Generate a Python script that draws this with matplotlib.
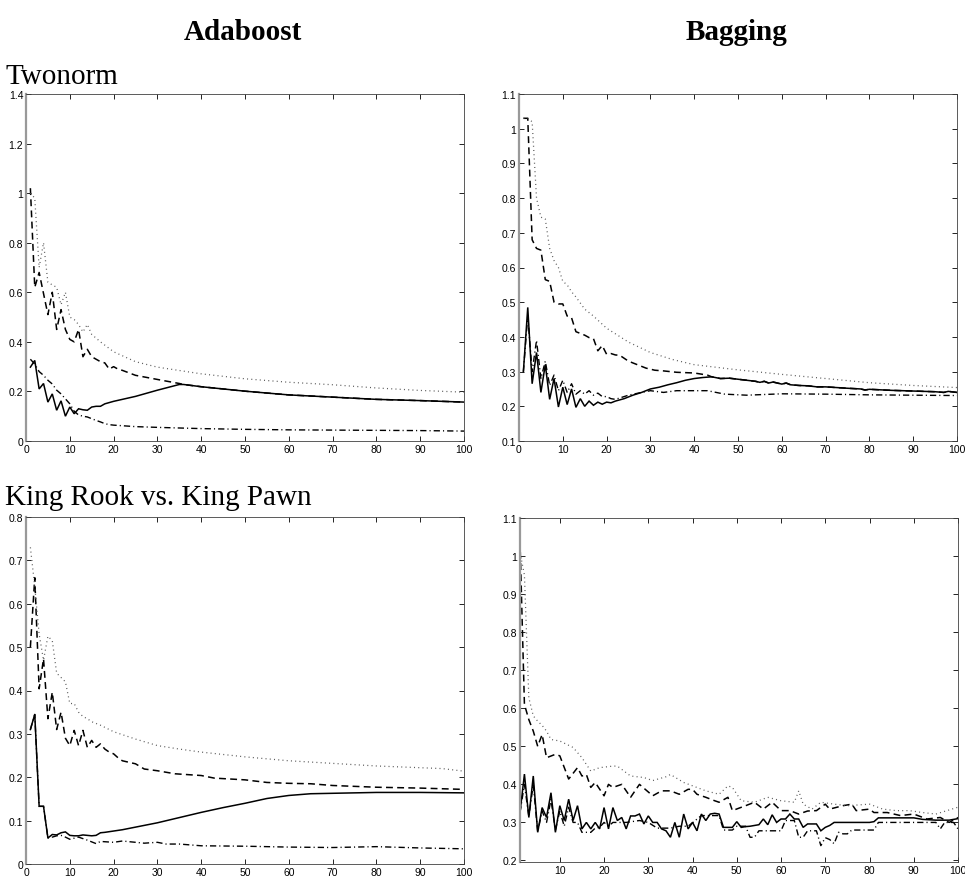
import matplotlib
matplotlib.use("Agg")
import matplotlib.pyplot as plt
from matplotlib.ticker import FuncFormatter

# ---------------- data ----------------
col_titles = ["Adaboost", "Bagging"]
row_titles = ["Twonorm", "King Rook vs. King Pawn"]

# Adaboost / Twonorm
tl_solid_x = [1, 2, 3, 4, 5, 6, 7, 8, 9, 10, 11, 12, 13, 14, 15, 16, 17, 18, 19, 20, 25, 30, 35, 36, 40, 50, 60, 70, 80, 90, 100]
tl_solid_y = [0.298, 0.325, 0.21, 0.232, 0.157, 0.19, 0.124, 0.162, 0.10, 0.137, 0.11, 0.13, 0.126, 0.124, 0.137, 0.14, 0.14, 0.15, 0.155, 0.16, 0.18, 0.205, 0.228, 0.228, 0.219, 0.201, 0.186, 0.177, 0.168, 0.163, 0.157]
tl_dash_x = [1, 2, 3, 5, 6, 7, 8, 9, 10, 11, 12, 13, 14, 15, 16, 17, 18, 19, 20, 21, 22, 25, 28, 31, 35, 36, 40, 50, 60, 70, 80, 90, 100]
tl_dash_y = [1.02, 0.62, 0.68, 0.51, 0.60, 0.45, 0.53, 0.45, 0.41, 0.40, 0.45, 0.34, 0.37, 0.34, 0.33, 0.32, 0.315, 0.29, 0.30, 0.29, 0.285, 0.265, 0.255, 0.245, 0.232, 0.228, 0.219, 0.201, 0.186, 0.177, 0.168, 0.163, 0.157]
tl_dot_x = [1, 2, 3, 4, 5, 6, 7, 8, 9, 10, 11, 12, 13, 14, 15, 17, 20, 25, 30, 40, 50, 60, 70, 80, 90, 100]
tl_dot_y = [1.0, 0.98, 0.70, 0.80, 0.64, 0.63, 0.62, 0.55, 0.60, 0.50, 0.49, 0.47, 0.44, 0.47, 0.43, 0.40, 0.36, 0.32, 0.298, 0.271, 0.251, 0.237, 0.227, 0.214, 0.204, 0.197]
tl_dashdot_x = [1, 2, 3, 4, 5, 6, 7, 8, 9, 10, 11, 12, 13, 14, 15, 16, 17, 18, 19, 20, 25, 30, 40, 50, 60, 70, 80, 90, 100]
tl_dashdot_y = [0.33, 0.31, 0.28, 0.265, 0.245, 0.23, 0.205, 0.19, 0.17, 0.15, 0.12, 0.105, 0.10, 0.097, 0.09, 0.083, 0.077, 0.07, 0.066, 0.064, 0.058, 0.055, 0.05, 0.047, 0.045, 0.044, 0.043, 0.042, 0.04]

# Bagging / Twonorm
tr_solid_x = [1, 2, 3, 4, 5, 6, 7, 8, 9, 10, 11, 12, 13, 14, 15, 16, 17, 18, 19, 20, 21, 22, 24, 26, 28, 30, 32, 34, 36, 38, 40, 42, 44, 46, 48, 50, 52, 54, 55, 56, 57, 58, 60, 61, 62, 64, 66, 68, 70, 75, 78, 79, 80, 85, 90, 95, 97, 98, 100]
tr_solid_y = [0.30, 0.485, 0.265, 0.355, 0.24, 0.32, 0.22, 0.28, 0.198, 0.255, 0.205, 0.25, 0.197, 0.222, 0.20, 0.215, 0.203, 0.212, 0.206, 0.212, 0.21, 0.215, 0.222, 0.232, 0.24, 0.25, 0.255, 0.262, 0.268, 0.275, 0.28, 0.283, 0.285, 0.28, 0.281, 0.278, 0.275, 0.272, 0.269, 0.272, 0.267, 0.27, 0.264, 0.267, 0.262, 0.26, 0.259, 0.256, 0.256, 0.252, 0.25, 0.247, 0.249, 0.246, 0.244, 0.242, 0.24, 0.243, 0.24]
tr_dash_x = [1, 2, 3, 4, 5, 6, 7, 8, 9, 10, 11, 12, 13, 14, 15, 16, 17, 18, 19, 20, 21, 22, 23, 25, 27, 29, 31, 33, 36, 40, 43, 44, 46, 48, 50, 52, 54, 55, 56, 57, 58, 60, 61, 62, 64, 66, 68, 70, 75, 78, 79, 80, 85, 90, 95, 97, 98, 100]
tr_dash_y = [1.03, 1.03, 0.68, 0.655, 0.65, 0.565, 0.56, 0.50, 0.495, 0.495, 0.46, 0.455, 0.415, 0.41, 0.405, 0.398, 0.395, 0.36, 0.375, 0.35, 0.352, 0.348, 0.347, 0.33, 0.32, 0.31, 0.304, 0.302, 0.298, 0.296, 0.29, 0.285, 0.28, 0.281, 0.278, 0.275, 0.272, 0.269, 0.272, 0.267, 0.27, 0.264, 0.267, 0.262, 0.26, 0.259, 0.256, 0.256, 0.252, 0.25, 0.247, 0.249, 0.246, 0.244, 0.242, 0.24, 0.243, 0.24]
tr_dot_x = [1, 2, 3, 4, 5, 6, 7, 8, 9, 10, 11, 12, 13, 15, 17, 20, 25, 30, 35, 40, 50, 60, 70, 80, 90, 100]
tr_dot_y = [1.03, 1.03, 1.02, 0.80, 0.745, 0.74, 0.655, 0.62, 0.60, 0.56, 0.55, 0.53, 0.515, 0.48, 0.46, 0.425, 0.385, 0.355, 0.335, 0.32, 0.305, 0.292, 0.28, 0.268, 0.26, 0.254]
tr_dashdot_x = [1, 2, 3, 4, 5, 6, 7, 8, 9, 10, 11, 12, 13, 14, 15, 16, 17, 18, 19, 20, 21, 22, 25, 28, 30, 33, 36, 40, 43, 47, 52, 60, 70, 80, 90, 100]
tr_dashdot_y = [0.30, 0.46, 0.30, 0.39, 0.28, 0.33, 0.26, 0.29, 0.245, 0.275, 0.24, 0.265, 0.235, 0.245, 0.235, 0.245, 0.232, 0.238, 0.228, 0.228, 0.222, 0.22, 0.232, 0.24, 0.245, 0.24, 0.245, 0.245, 0.245, 0.235, 0.232, 0.236, 0.235, 0.233, 0.232, 0.231]

# Adaboost / King Rook vs. King Pawn
bl_solid_x = [1, 2, 3, 4, 5, 6, 7, 8, 9, 10, 11, 12, 13, 14, 15, 16, 17, 18, 20, 22, 25, 30, 35, 40, 45, 50, 55, 60, 65, 70, 80, 90, 100]
bl_solid_y = [0.31, 0.345, 0.133, 0.133, 0.06, 0.068, 0.067, 0.072, 0.074, 0.066, 0.065, 0.065, 0.067, 0.066, 0.065, 0.066, 0.072, 0.073, 0.076, 0.079, 0.085, 0.095, 0.107, 0.119, 0.13, 0.14, 0.151, 0.158, 0.162, 0.163, 0.165, 0.165, 0.164]
bl_dash_x = [1, 2, 3, 4, 5, 6, 7, 8, 9, 10, 11, 12, 13, 14, 15, 16, 17, 18, 19, 20, 21, 22, 25, 27, 30, 34, 37, 40, 43, 50, 55, 60, 65, 70, 80, 90, 100]
bl_dash_y = [0.50, 0.66, 0.404, 0.473, 0.335, 0.396, 0.31, 0.35, 0.29, 0.273, 0.308, 0.273, 0.308, 0.269, 0.285, 0.269, 0.277, 0.265, 0.258, 0.254, 0.245, 0.238, 0.231, 0.219, 0.215, 0.208, 0.206, 0.204, 0.198, 0.194, 0.188, 0.186, 0.185, 0.181, 0.177, 0.175, 0.172]
bl_dot_x = [1, 2, 3, 4, 5, 6, 7, 8, 9, 10, 11, 12, 13, 14, 15, 17, 20, 25, 30, 35, 40, 50, 60, 70, 80, 90, 95, 100]
bl_dot_y = [0.73, 0.64, 0.53, 0.47, 0.525, 0.515, 0.44, 0.43, 0.42, 0.37, 0.37, 0.35, 0.34, 0.335, 0.328, 0.32, 0.305, 0.288, 0.273, 0.265, 0.258, 0.247, 0.238, 0.232, 0.226, 0.222, 0.22, 0.214]
bl_dashdot_x = [1, 2, 3, 4, 5, 6, 7, 8, 9, 10, 12, 14, 16, 17, 20, 22, 25, 27, 30, 32, 35, 40, 50, 60, 70, 80, 90, 100]
bl_dashdot_y = [0.31, 0.345, 0.133, 0.133, 0.06, 0.062, 0.065, 0.066, 0.062, 0.057, 0.062, 0.055, 0.047, 0.052, 0.05, 0.053, 0.05, 0.048, 0.05, 0.046, 0.046, 0.042, 0.041, 0.039, 0.038, 0.04, 0.037, 0.035]

# Bagging / King Rook vs. King Pawn
br_solid_x = [1, 2, 3, 4, 5, 6, 7, 8, 9, 10, 11, 12, 13, 14, 15, 16, 17, 18, 19, 20, 21, 22, 23, 24, 25, 26, 27, 28, 29, 30, 31, 32, 33, 34, 35, 36, 37, 38, 39, 40, 41, 42, 43, 44, 45, 46, 47, 48, 49, 50, 51, 52, 53, 54, 55, 56, 57, 58, 59, 60, 61, 62, 63, 64, 65, 66, 67, 68, 69, 70, 71, 72, 73, 75, 80, 81, 82, 90, 92, 95, 98, 100]
br_solid_y = [0.326, 0.427, 0.313, 0.422, 0.274, 0.339, 0.313, 0.378, 0.274, 0.344, 0.305, 0.361, 0.305, 0.344, 0.283, 0.30, 0.283, 0.30, 0.283, 0.339, 0.283, 0.339, 0.305, 0.313, 0.283, 0.317, 0.317, 0.322, 0.296, 0.317, 0.30, 0.30, 0.283, 0.278, 0.261, 0.30, 0.261, 0.322, 0.283, 0.30, 0.278, 0.322, 0.305, 0.322, 0.324, 0.322, 0.287, 0.287, 0.287, 0.302, 0.287, 0.289, 0.29, 0.292, 0.294, 0.309, 0.294, 0.32, 0.30, 0.309, 0.309, 0.322, 0.309, 0.309, 0.287, 0.296, 0.296, 0.296, 0.278, 0.287, 0.292, 0.30, 0.30, 0.30, 0.30, 0.302, 0.312, 0.312, 0.308, 0.306, 0.306, 0.31]
br_dash_x = [1, 2, 3, 4, 5, 6, 7, 9, 10, 12, 14, 15, 16, 17, 18, 20, 21, 22, 24, 26, 28, 31, 33, 35, 37, 39, 40, 41, 43, 45, 46, 48, 49, 52, 54, 56, 58, 60, 62, 64, 66, 68, 70, 71, 74, 76, 77, 80, 81, 84, 87, 90, 93, 96, 98, 100]
br_dash_y = [1.04, 0.61, 0.57, 0.54, 0.50, 0.531, 0.47, 0.479, 0.475, 0.414, 0.444, 0.422, 0.426, 0.392, 0.405, 0.37, 0.40, 0.392, 0.40, 0.366, 0.40, 0.37, 0.383, 0.383, 0.374, 0.387, 0.387, 0.374, 0.366, 0.357, 0.353, 0.366, 0.331, 0.344, 0.353, 0.335, 0.353, 0.331, 0.331, 0.322, 0.33, 0.331, 0.348, 0.335, 0.344, 0.348, 0.331, 0.335, 0.326, 0.326, 0.318, 0.322, 0.309, 0.313, 0.30, 0.313]
br_dot_x = [1, 2, 3, 4, 5, 6, 7, 8, 10, 13, 15, 17, 19, 22, 23, 26, 29, 31, 34, 35, 38, 43, 46, 48, 49, 51, 54, 57, 60, 63, 64, 65, 67, 69, 72, 75, 80, 83, 86, 89, 92, 95, 100]
br_dot_y = [1.01, 0.95, 0.627, 0.58, 0.566, 0.555, 0.54, 0.518, 0.514, 0.497, 0.47, 0.435, 0.444, 0.448, 0.448, 0.422, 0.418, 0.41, 0.42, 0.426, 0.405, 0.383, 0.374, 0.396, 0.392, 0.357, 0.353, 0.366, 0.357, 0.353, 0.383, 0.348, 0.335, 0.353, 0.348, 0.344, 0.348, 0.335, 0.331, 0.331, 0.326, 0.322, 0.34]
br_dashdot_x = [1, 2, 3, 4, 5, 6, 7, 8, 9, 10, 11, 12, 13, 14, 15, 17, 18, 19, 20, 21, 22, 25, 28, 30, 32, 35, 37, 39, 42, 46, 47, 49, 50, 52, 53, 54, 55, 60, 61, 63, 64, 65, 66, 68, 69, 70, 71, 72, 73, 74, 75, 76, 81, 82, 95, 96, 97, 99, 100]
br_dashdot_y = [0.326, 0.40, 0.315, 0.40, 0.275, 0.33, 0.30, 0.36, 0.28, 0.33, 0.29, 0.34, 0.30, 0.30, 0.274, 0.274, 0.285, 0.287, 0.30, 0.29, 0.30, 0.30, 0.305, 0.30, 0.285, 0.285, 0.29, 0.29, 0.318, 0.318, 0.28, 0.28, 0.29, 0.29, 0.261, 0.261, 0.278, 0.278, 0.305, 0.305, 0.261, 0.261, 0.278, 0.278, 0.239, 0.26, 0.255, 0.244, 0.274, 0.27, 0.27, 0.28, 0.28, 0.30, 0.30, 0.283, 0.30, 0.30, 0.283]

# ---------------- figure ----------------
W, H = 965, 878
fig = plt.figure(figsize=(W / 100, H / 100), dpi=100)

def frac_rect(l, t, r, b):
    return [l / W, 1 - b / H, (r - l) / W, (b - t) / H]

panels = [
    dict(rect=frac_rect(26, 95, 464, 442), xlim=(0, 100), ylim=(0, 1.4),
         yticks=[0, 0.2, 0.4, 0.6, 0.8, 1.0, 1.2, 1.4], xticks=list(range(0, 101, 10)),
         data=[(tl_solid_x, tl_solid_y), (tl_dash_x, tl_dash_y), (tl_dot_x, tl_dot_y), (tl_dashdot_x, tl_dashdot_y)]),
    dict(rect=frac_rect(519, 95, 957, 442), xlim=(0, 100), ylim=(0.1, 1.1),
         yticks=[0.1, 0.2, 0.3, 0.4, 0.5, 0.6, 0.7, 0.8, 0.9, 1.0, 1.1], xticks=list(range(0, 101, 10)),
         data=[(tr_solid_x, tr_solid_y), (tr_dash_x, tr_dash_y), (tr_dot_x, tr_dot_y), (tr_dashdot_x, tr_dashdot_y)]),
    dict(rect=frac_rect(26, 518, 464, 865), xlim=(0, 100), ylim=(0, 0.8),
         yticks=[0, 0.1, 0.2, 0.3, 0.4, 0.5, 0.6, 0.7, 0.8], xticks=list(range(0, 101, 10)),
         data=[(bl_solid_x, bl_solid_y), (bl_dash_x, bl_dash_y), (bl_dot_x, bl_dot_y), (bl_dashdot_x, bl_dashdot_y)]),
    dict(rect=frac_rect(520, 519, 958, 863), xlim=(1, 100), ylim=(0.196, 1.1),
         yticks=[0.2, 0.3, 0.4, 0.5, 0.6, 0.7, 0.8, 0.9, 1.0, 1.1], xticks=list(range(10, 101, 10)),
         data=[(br_solid_x, br_solid_y), (br_dash_x, br_dash_y), (br_dot_x, br_dot_y), (br_dashdot_x, br_dashdot_y)]),
]

styles = [
    dict(color="black", lw=1.1, ls="-"),
    dict(color="black", lw=1.1, ls=(0, (4.5, 2.8))),
    dict(color="0.35", lw=0.9, ls=(0, (0.8, 2.6))),
    dict(color="black", lw=1.0, ls=(0, (4.5, 2.2, 0.8, 2.2))),
]

fmt = FuncFormatter(lambda v, p: ("%g" % round(v, 3)))
tickfont = "Liberation Sans"

for p in panels:
    ax = fig.add_axes(p["rect"])
    for (xs, ys), st in zip(p["data"], styles):
        ax.plot(xs, ys, color=st["color"], lw=st["lw"], linestyle=st["ls"],
                solid_joinstyle="miter", dash_capstyle="butt")
    ax.set_xlim(*p["xlim"])
    ax.set_ylim(*p["ylim"])
    ax.set_xticks(p["xticks"])
    ax.set_yticks(p["yticks"])
    ax.xaxis.set_major_formatter(fmt)
    ax.yaxis.set_major_formatter(fmt)
    ax.tick_params(direction="in", length=3.5, width=0.6, top=True, right=True,
                   labelsize=7.5, pad=2, colors="black")
    for lab in ax.get_xticklabels() + ax.get_yticklabels():
        lab.set_fontfamily(tickfont)
    for side, sp in ax.spines.items():
        sp.set_linewidth(0.6)
        sp.set_color("0.25")
    ax.spines["left"].set_linewidth(1.6)
    ax.spines["left"].set_color("0.6")

serif = "Liberation Serif"
fig.text(243 / W, 1 - 40 / H, col_titles[0], fontfamily=serif, fontweight="bold",
         fontsize=21, ha="center", va="baseline")
fig.text(736 / W, 1 - 40 / H, col_titles[1], fontfamily=serif, fontweight="bold",
         fontsize=21, ha="center", va="baseline")
fig.text(5 / W, 1 - 84 / H, row_titles[0], fontfamily=serif, fontsize=21,
         ha="left", va="baseline")
fig.text(5 / W, 1 - 505 / H, row_titles[1], fontfamily=serif, fontsize=21,
         ha="left", va="baseline")

fig.savefig("out.png", dpi=100)
